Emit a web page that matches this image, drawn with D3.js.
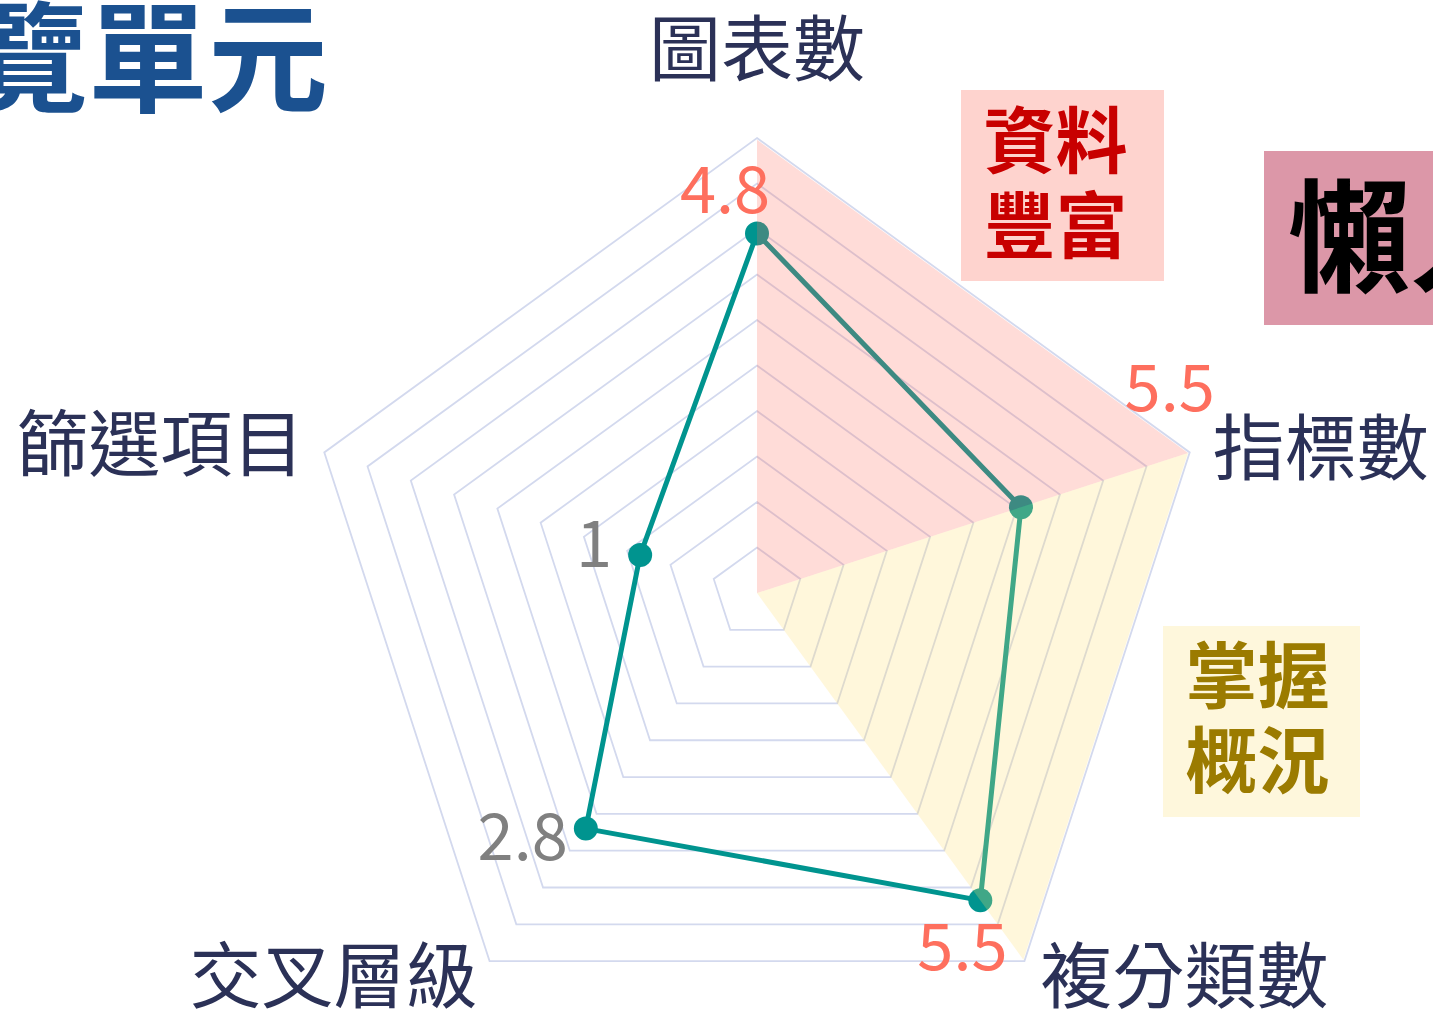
<!DOCTYPE html>
<html>
<head>
<meta charset="utf-8">
<script src="https://cdn.jsdelivr.net/npm/d3@7"></script>
<style>
    html, body { margin: 0; padding: 0; background: #fff; overflow: hidden; }
    svg { display: block; font-family: "Noto Sans CJK TC", "Noto Sans", sans-serif; }
</style>
</head>
<body>
<svg id="chart" width="1433" height="1011"></svg>
<script>
(function () {
    'use strict';

    // axes clockwise from the top
    const axes = ['圖表數', '指標數', '複分類數', '交叉層級', '篩選項目'];
    // where the points sit, in grid rings (0-10)
    const plotValues = [7.9, 6.1, 8.35, 6.4, 2.7];
    // what the callouts say
    const valueLabels = ['4.8', '5.5', '5.5', '2.8', '1'];
    const highValue = [true, true, true, false, false];
    const gridLevels = d3.range(1, 11);

    const pinkSector = [0, 1];
    const yellowSector = [1, 2];

    const LAYOUT = {
        CX: 757,
        CY: 593,
        R: 455
    };

    // label placement, kept apart from the data
    const axisLabelLayout = [
        { dx: 0, dy: -95, anchor: 'middle' },
        { dx: 23, dy: -10, anchor: 'start' },
        { dx: 16, dy: 9, anchor: 'start' },
        { dx: -12, dy: 9, anchor: 'end' },
        { dx: -20, dy: -14, anchor: 'end' }
    ];
    const valueLabelLayout = [
        { at: 'point', dx: -32, dy: -21, anchor: 'middle' },
        { at: 'rim', dx: -20, dy: -41, anchor: 'middle' },
        { at: 'rim', dx: -62, dy: 9, anchor: 'middle' },
        { at: 'point', dx: -18, dy: 31, anchor: 'end' },
        { at: 'point', dx: -28, dy: 12, anchor: 'end' }
    ];

    const svg = d3.select('#chart');

    const angle = d3.scaleLinear().domain([0, axes.length]).range([-Math.PI / 2, 1.5 * Math.PI]);
    const radius = d3.scaleLinear().domain([0, 10]).range([0, LAYOUT.R]);

    function pos(i, v) {
        const a = angle(i), r = radius(v);
        return [LAYOUT.CX + r * Math.cos(a), LAYOUT.CY + r * Math.sin(a)];
    }

    const closed = d3.line().curve(d3.curveLinearClosed);

    // title cut by the left edge
    svg.append('text')
        .attr('x', -32)
        .attr('y', 103)
        .attr('font-size', 120)
        .attr('font-weight', 700)
        .attr('fill', '#1b5190')
        .text('覽單元');

    // grid rings
    svg.append('g')
        .selectAll('path')
        .data(gridLevels)
        .enter()
        .append('path')
        .attr('d', lvl => closed(axes.map((a, i) => pos(i, lvl))))
        .attr('fill', 'none')
        .attr('stroke', '#d3d9ee')
        .attr('stroke-width', 1.8);

    // series
    const pts = plotValues.map((v, i) => pos(i, v));
    svg.append('path')
        .attr('d', closed(pts))
        .attr('fill', 'none')
        .attr('stroke', '#00948f')
        .attr('stroke-width', 5)
        .attr('stroke-linejoin', 'round');

    svg.append('g')
        .selectAll('circle')
        .data(pts)
        .enter()
        .append('circle')
        .attr('cx', d => d[0])
        .attr('cy', d => d[1])
        .attr('r', 12)
        .attr('fill', '#00948f');

    // translucent sectors over the grid and the line
    function sector(idx) {
        return d3.line()([[LAYOUT.CX, LAYOUT.CY], pos(idx[0], 9.96), pos(idx[1], 9.96)]) + 'Z';
    }
    svg.append('path')
        .attr('d', sector(pinkSector))
        .attr('fill', 'rgb(255,108,92)')
        .attr('fill-opacity', 0.24);
    svg.append('path')
        .attr('d', sector(yellowSector))
        .attr('fill', 'rgb(255,222,110)')
        .attr('fill-opacity', 0.25);

    // axis names
    svg.append('g')
        .selectAll('text')
        .data(axes)
        .enter()
        .append('text')
        .attr('x', (d, i) => pos(i, 10)[0] + axisLabelLayout[i].dx)
        .attr('y', (d, i) => pos(i, 10)[1] + axisLabelLayout[i].dy)
        .attr('text-anchor', (d, i) => axisLabelLayout[i].anchor)
        .attr('dominant-baseline', 'central')
        .attr('font-size', 72)
        .attr('fill', '#2b3157')
        .text(d => d);

    // value callouts
    svg.append('g')
        .selectAll('text')
        .data(valueLabels)
        .enter()
        .append('text')
        .attr('x', (d, i) => {
            const l = valueLabelLayout[i];
            return (l.at === 'rim' ? pos(i, 10) : pts[i])[0] + l.dx;
        })
        .attr('y', (d, i) => {
            const l = valueLabelLayout[i];
            return (l.at === 'rim' ? pos(i, 10) : pts[i])[1] + l.dy;
        })
        .attr('text-anchor', (d, i) => valueLabelLayout[i].anchor)
        .attr('font-size', 65)
        .attr('fill', (d, i) => highValue[i] ? '#fe6f5e' : '#808080')
        .text(d => d);

    // callout boxes
    function box(x, y, w, h, bg, color, lines, size, tx, ty) {
        const g = svg.append('g');
        g.append('rect')
            .attr('x', x).attr('y', y)
            .attr('width', w).attr('height', h)
            .attr('fill', bg);
        g.selectAll('text')
            .data(lines)
            .enter()
            .append('text')
            .attr('x', x + w / 2 + tx)
            .attr('y', (d, i) => y + h / 2 + ty + (i - (lines.length - 1) / 2) * 85)
            .attr('text-anchor', 'middle')
            .attr('dominant-baseline', 'central')
            .attr('font-size', size)
            .attr('font-weight', 700)
            .attr('fill', color)
            .text(d => d);
    }
    box(961, 90, 203, 191, '#fed3ce', '#c80000', ['資料', '豐富'], 72, -7, -8);
    box(1163, 626, 197, 191, '#fef7dc', '#9b7b00', ['掌握', '概況'], 72, -4, -9);

    svg.append('rect')
        .attr('x', 1264).attr('y', 151)
        .attr('width', 200).attr('height', 174)
        .attr('fill', '#dc97a8');
    svg.append('text')
        .attr('x', 1288)
        .attr('y', 228)
        .attr('dominant-baseline', 'central')
        .attr('font-size', 122)
        .attr('font-weight', 700)
        .attr('fill', '#000')
        .text('懶人');
})();
</script>
</body>
</html>
